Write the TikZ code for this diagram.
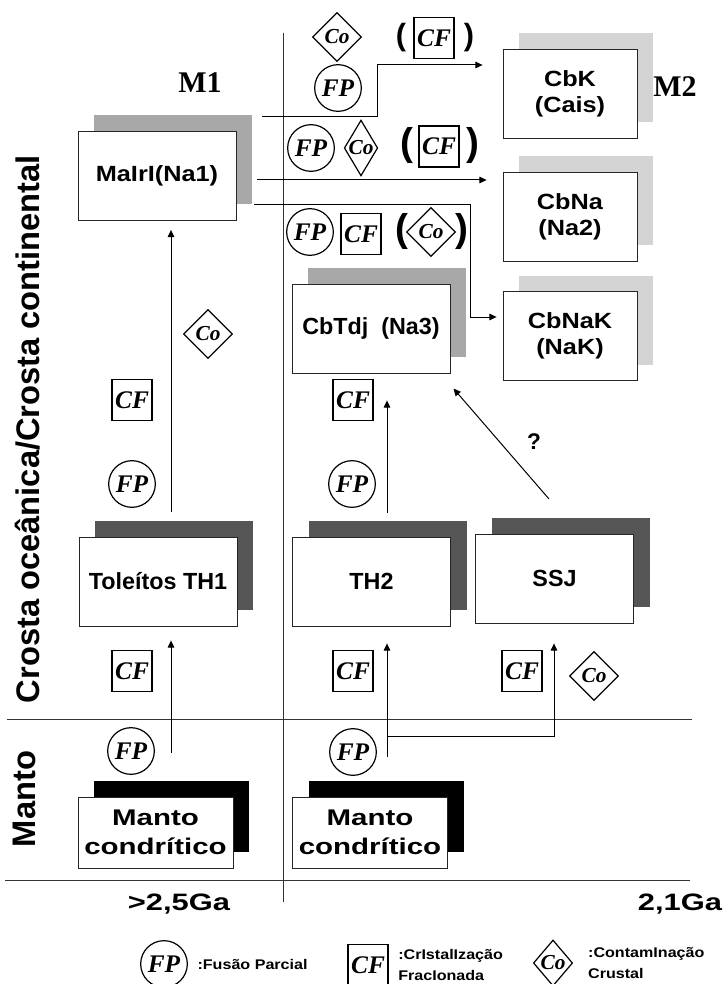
\documentclass[tikz,border=0pt]{standalone}
\usepackage{fontspec}
\setmainfont{Liberation Serif}
\newfontfamily\arialf{Liberation Sans}
\newfontfamily\arialw[FakeStretch=1.15]{Liberation Sans}
\newfontfamily\arialx[FakeStretch=1.3]{Liberation Sans}
\usetikzlibrary{arrows.meta,positioning,shapes.geometric,shadows}
\definecolor{ShLight}{HTML}{D4D4D4}
\definecolor{ShMid}{HTML}{A8A8A8}
\definecolor{ShDark}{HTML}{555555}

\begin{document}
\begin{tikzpicture}[
    x=0.75pt, y=-0.75pt,
    box/.style={draw=black!85, fill=white, line width=0.6pt, inner sep=0pt, align=center,
      minimum width=118.5pt, minimum height=66.75pt,
      font=\bfseries\fontsize{17.5}{21}\selectfont\arialf},
    boxw/.style={box, minimum width=100.5pt, font=\bfseries\fontsize{16.5}{19.5}\selectfont\arialw},
    mantle/.style={box, minimum width=116.25pt, minimum height=53.25pt,
      font=\bfseries\fontsize{17}{21.5}\selectfont\arialx},
    shLight/.style={general shadow={fill=ShLight, shadow xshift=12pt, shadow yshift=12pt}},
    shMid/.style={general shadow={fill=ShMid, shadow xshift=12pt, shadow yshift=12pt}},
    shDark/.style={general shadow={fill=ShDark, shadow xshift=12pt, shadow yshift=12pt}},
    shBlack/.style={general shadow={fill=black, shadow xshift=12pt, shadow yshift=12pt}},
    sym/.style={inner sep=0pt, font=\bfseries\itshape\fontsize{19}{22}\selectfont},
    fp/.style={sym, circle, draw, line width=0.9pt, minimum size=35pt},
    cf/.style={sym, rectangle, draw, line width=1pt, minimum width=30pt, minimum height=30.75pt},
    co/.style={sym, diamond, draw, line width=0.9pt, minimum width=36.75pt, minimum height=36.75pt,
      font=\bfseries\itshape\fontsize{16}{18}\selectfont},
    par/.style={inner sep=0pt, font=\bfseries\fontsize{29}{30}\selectfont\arialf},
    parS/.style={par, font=\bfseries\fontsize{23}{24}\selectfont\arialf},
    side/.style={rotate=90, inner sep=0pt, font=\bfseries\fontsize{24.5}{28}\selectfont\arialf},
    mlab/.style={inner sep=0pt, font=\bfseries\fontsize{22.5}{26}\selectfont},
    age/.style={inner sep=0pt, font=\bfseries\fontsize{17.8}{20}\selectfont\arialx},
    leg/.style={inner sep=0pt, align=left, font=\bfseries\fontsize{10.5}{15.75}\selectfont\arialw},
    axis/.style={black!80, line width=0.7pt},
    arr/.style={-{Triangle[length=5.5pt,width=5pt]}, line width=0.75pt}
  ]
    \path[use as bounding box, fill=white] (0,0) rectangle (722,984);

    % axes
    \draw[axis] (283,33) -- (283,902);
    \draw[axis] (7,719) -- (692,719);
    \draw[axis] (5,880) -- (690,880);

    % side and top labels
    \node[side] (crosta) at (28,429) {Crosta oceânica/Crosta continental};
    \node[side] (manto) at (24,799) {Manto};
    \node[mlab] (m1) at (200,83) {M1};
    \node[mlab] (m2) at (675,87) {M2};
    \node[age] (ga1) at (179,904) {>2,5Ga};
    \node[age] (ga2) at (680,904) {2,1Ga};

    % boxes
    \node[boxw,minimum width=118.5pt,shMid] (mai) at (157,176) {MaIrI(Na1)};
    \node[boxw,shLight] (cbk) at (570,94) {CbK\\(Cais)};
    \node[boxw,shLight] (cbna) at (570,216.5) {CbNa\\(Na2)};
    \node[boxw,shLight] (cbnak) at (570,336) {CbNaK\\(NaK)};
    \node[box,shMid] (cbt) at (371,328.5) {CbTdj~~(Na3)};
    \node[box,shDark] (tol) at (158,581.5) {Toleítos TH1};
    \node[box,shDark] (th2) at (371.5,581.5) {TH2};
    \node[box,shDark] (ssj) at (554.5,578.5) {SSJ};
    \node[mantle,shBlack] (mtl) at (155.5,832.5) {Manto\\condrítico};
    \node[mantle,shBlack] (mtr) at (370,832.5) {Manto\\condrítico};

    % process symbols
    \node[co] (co1) at (337,37) {Co};
    \node[fp] (fp1) at (338,88) {FP};
    \node[parS] (pa1) at (401,38) {(};
    \node[cf] (cf1) at (434,38) {CF};
    \node[parS] (pb1) at (469,38) {)};

    \node[fp] (fp2) at (311,148) {FP};
    \node[co,aspect=0.6,minimum width=25pt,minimum height=37.5pt] (co2) at (361,148) {Co};
    \node[par] (pa2) at (407,146) {(};
    \node[cf] (cf2) at (439,146.5) {CF};
    \node[par] (pb2) at (473,146) {)};

    \node[fp] (fp3) at (310,232) {FP};
    \node[cf] (cf3) at (361,234) {CF};
    \node[par] (pa3) at (402,232) {(};
    \node[co] (co3) at (431,232) {Co};
    \node[par] (pb3) at (462,232) {)};

    \node[co] (co4) at (208,334) {Co};
    \node[cf] (cf4) at (132,400) {CF};
    \node[fp] (fp4) at (132,484) {FP};
    \node[cf] (cf5) at (353,400) {CF};
    \node[fp] (fp5) at (352,484) {FP};

    \node[cf] (cf6) at (132,671) {CF};
    \node[cf] (cf7) at (353,671) {CF};
    \node[cf] (cf8) at (522,671) {CF};
    \node[co] (co5) at (594,676) {Co};
    \node[fp] (fp6) at (131,751) {FP};
    \node[fp] (fp7) at (353,752) {FP};

    % connectors
    \coordinate (a1) at (171,753);
    \coordinate (a2) at (171,512);
    \coordinate (a3) at (387,757);
    \coordinate (a4) at (387,736);
    \coordinate (a5) at (554,736);
    \coordinate (a6) at (387,513);
    \coordinate (a7) at (549,499);
    \coordinate (b1) at (262,117);
    \coordinate (b2) at (377,65);
    \coordinate (b3) at (257,180);
    \coordinate (b4) at (254,205);
    \coordinate (b5) at (470,317);

    \draw[arr,shorten >=10.5pt] (a1) -- (a1 |- tol.south);
    \draw[arr,shorten >=6.75pt] (a2) -- (a2 |- mai.south);
    \draw[arr,shorten >=12.75pt] (a3) -- (a3 |- th2.south);
    \draw[arr,shorten >=15pt] (a4) -- (a5) -- (a5 |- ssj.south);
    \draw[arr,shorten >=20.25pt] (a6) -- (a6 |- cbt.south);
    \draw[arr,shorten >=15pt] (a7) -- ([xshift=-7.5pt]cbt.south east);
    \node[inner sep=0pt,font=\bfseries\fontsize{17}{20}\selectfont\arialf] (qm) at (534,442) {?};

    \draw[arr,shorten >=15pt] (b1) -| (b2) -- (b2 -| cbk.west);
    \draw[arr,shorten >=12pt] (b3) -- (b3 -| cbna.west);
    \draw[arr,shorten >=4.5pt] (b4) -| (b5) -- (b5 -| cbnak.west);

    % legend
    \node[fp] (fpL) at (164,964) {FP};
    \node[leg,right=7pt of fpL] (fpT) {:Fusão Parcial};
    \node[cf] (cfL) at (368,965) {CF};
    \node[leg,right=7pt of cfL] (cfT) {:CrIstalIzação\\FracIonada};
    \node[co,minimum width=29pt,minimum height=34.5pt] (coL) at (553,963) {Co};
    \node[leg,right=11pt of coL] (coT) {:ContamInação\\Crustal};
  \end{tikzpicture}
\end{document}
